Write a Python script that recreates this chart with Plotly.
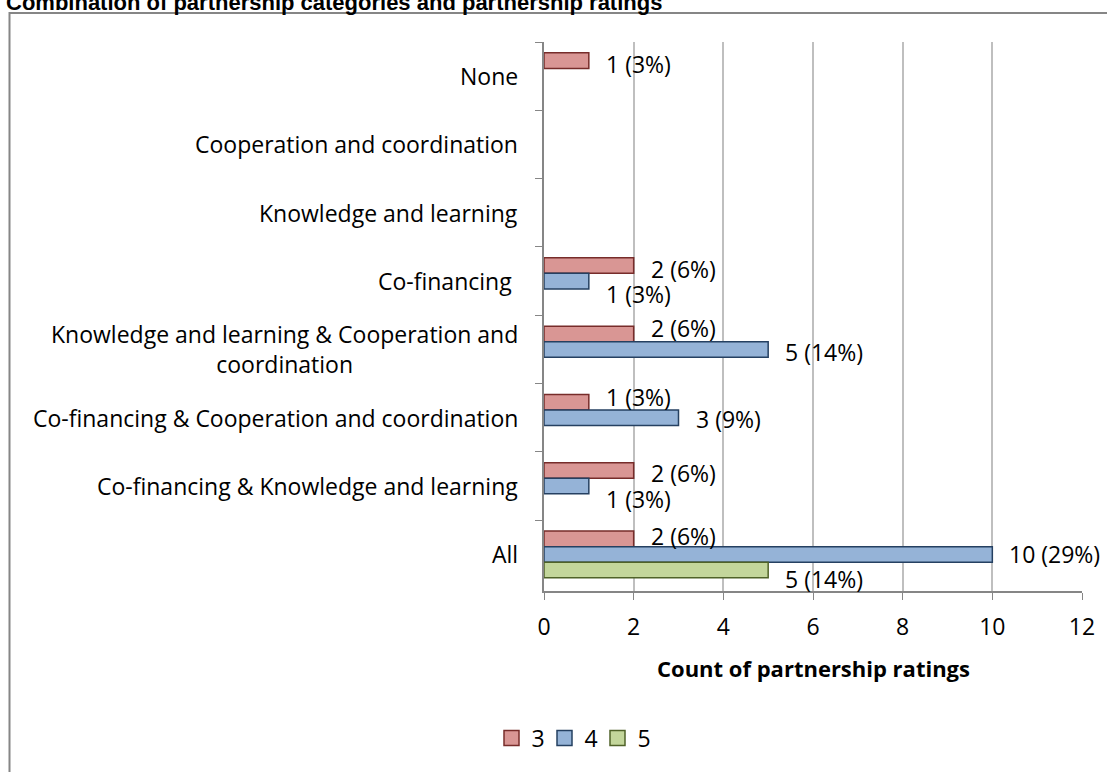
import plotly.graph_objects as go

categories = [
    "None",
    "Cooperation and coordination",
    "Knowledge and learning",
    "Co-financing\u00a0",
    "Knowledge and learning & Cooperation and<br>coordination",
    "Co-financing & Cooperation and coordination",
    "Co-financing & Knowledge and learning",
    "All",
]
series_names = ["3", "4", "5"]
rating3 = [1, None, None, 2, 2, 1, 2, 2]
rating4 = [None, None, None, 1, 5, 3, 1, 10]
rating5 = [None, None, None, None, None, None, None, 5]
labels3 = ["1 (3%)", "", "", "2 (6%)", "2 (6%)", "1 (3%)", "2 (6%)", "2 (6%)"]
labels4 = ["", "", "", "1 (3%)", "5 (14%)", "3 (9%)", "1 (3%)", "10 (29%)"]
labels5 = ["", "", "", "", "", "", "", "5 (14%)"]
x_ticks = [0, 2, 4, 6, 8, 10, 12]

# styling: vertical nudge of data labels (px, downward) as placed in the original
nudge3 = [3, 0, 0, 3, -6, -5, 3, -3]
nudge4 = [0, 0, 0, 13, 3, 1, 13, 0]
nudge5 = [0, 0, 0, 0, 0, 0, 0, 9]

fills = ["#D99694", "#95B3D7", "#C3D69B"]
borders = ["#772C2A", "#254061", "#4F6228"]

FONT = "Open Sans"
FS = 23

W, H = 1107, 772
L, R, T, B = 544, 25, 42, 181
PW, PH = W - L - R, H - T - B
BARGAP = 0.318
SLOT = PH / len(categories) * (1 - BARGAP) / len(series_names)


def px_x(px):
    return (px - L) / PW


def px_y(py):
    return (H - B - py) / PH


fig = go.Figure()
all_vals = [rating3, rating4, rating5]
all_labs = [labels3, labels4, labels5]
all_nudge = [nudge3, nudge4, nudge5]
for i, (name, vals, labs, nud, fc, bc) in enumerate(zip(series_names, all_vals, all_labs,
                                                         all_nudge, fills, borders)):
    fig.add_trace(go.Bar(
        y=categories, x=vals, name=name, orientation="h", showlegend=False,
        marker=dict(color=fc, line=dict(color=bc, width=1.5)),
    ))
    fig.add_trace(go.Scatter(
        x=[None], y=[None], mode="markers", name=name, showlegend=True,
        marker=dict(symbol="square", size=15, color=fc, line=dict(color=bc, width=1.5)),
    ))
    slot_shift = (i - (len(series_names) - 1) / 2) * SLOT
    for c, v, t, dy in zip(categories, vals, labs, nud):
        if v is None or not t:
            continue
        fig.add_annotation(
            x=v, xref="x", y=c, yref="y", xanchor="left", yanchor="middle",
            xshift=15, yshift=-(slot_shift + dy), text=t, showarrow=False,
            font=dict(family=FONT, size=FS, color="black"),
        )

# category labels as annotations (centered multi-line)
for c in categories:
    fig.add_annotation(
        x=0, xref="paper", y=c, yref="y", xanchor="right", xshift=-24,
        text=c, showarrow=False, align="center",
        font=dict(family=FONT, size=FS, color="black"),
    )

# title (top edge clipped as in the original)
fig.add_annotation(
    x=px_x(4), xref="paper", y=px_y(17), yref="paper", xanchor="left", yanchor="bottom",
    text="<b>Combination of partnership categories and partnership ratings</b>",
    showarrow=False, font=dict(family="Liberation Sans", size=22, color="black"),
)

# x axis title
fig.add_annotation(
    x=0.5, xref="paper", y=px_y(668), yref="paper", xanchor="center", yanchor="middle",
    text="<b>Count of partnership ratings</b>", showarrow=False,
    font=dict(family=FONT, size=22, color="black"),
)

# chart border
fig.add_shape(type="rect", xref="paper", yref="paper",
              x0=px_x(9.5), x1=px_x(W + 40), y0=px_y(H + 40), y1=px_y(13),
              line=dict(color="#868686", width=2), layer="below")

fig.update_layout(
    width=W, height=H,
    margin=dict(l=L, r=R, t=T, b=B),
    paper_bgcolor="white", plot_bgcolor="white",
    barmode="group", bargap=BARGAP, bargroupgap=0,
    font=dict(family=FONT, size=FS, color="black"),
    legend=dict(orientation="h", x=px_x(571), xanchor="center", y=px_y(738), yanchor="middle",
                font=dict(family=FONT, size=FS), itemwidth=30, tracegroupgap=0,
                entrywidth=8, entrywidthmode="pixels"),
    showlegend=True,
)
fig.update_xaxes(
    range=[0, 12], tickvals=x_ticks, showgrid=True, gridcolor="#BFBFBF", gridwidth=1.5,
    showline=True, linecolor="#868686", linewidth=1.5, ticks="outside", ticklen=7,
    tickcolor="#868686", zeroline=False, ticklabelstandoff=8,
    tickfont=dict(family=FONT, size=FS),
)
fig.update_yaxes(
    type="category", autorange="reversed", showticklabels=False,
    showline=True, linecolor="#868686", linewidth=1.5, ticks="outside", ticklen=7,
    tickcolor="#868686", tickson="boundaries", showgrid=False,
)

fig.write_html("out.html", config={"displayModeBar": False},
               post_script="document.body.style.margin='0px';")
